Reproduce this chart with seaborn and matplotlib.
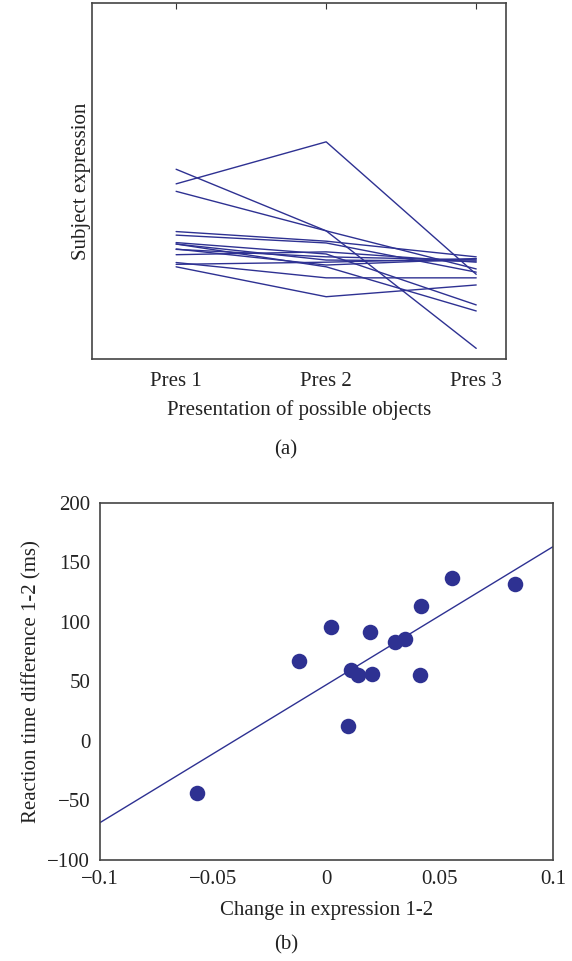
import numpy as np
import pandas as pd
import matplotlib
matplotlib.use("Agg")
import matplotlib.pyplot as plt
import seaborn as sns

# (a) subject expression at each presentation (arbitrary units, axis fraction)
pres_labels = ["Pres 1", "Pres 2", "Pres 3"]
pres_1 = [0.492, 0.533, 0.471, 0.358, 0.348, 0.327, 0.323, 0.308, 0.293, 0.271, 0.266, 0.259, 0.323, 0.309]
pres_2 = [0.610, 0.360, 0.360, 0.331, 0.326, 0.295, 0.259, 0.287, 0.301, 0.228, 0.272, 0.175, 0.278, 0.264]
pres_3 = [0.238, 0.030, 0.253, 0.287, 0.244, 0.152, 0.135, 0.278, 0.272, 0.228, 0.282, 0.208, 0.275, 0.281]

# (b) change in expression vs reaction time difference
change_12 = [-0.0573, -0.0123, 0.0020, 0.0192, 0.0107, 0.0138, 0.0200,
             0.0095, 0.0304, 0.0348, 0.0415, 0.0411, 0.0554, 0.0831]
rt_diff_12 = [-43.4, 67.2, 95.5, 91.9, 59.7, 55.5, 56.3,
              12.9, 82.9, 85.4, 113.2, 55.5, 136.7, 132.2]
fit_x = [-0.1, 0.1]
fit_y = [-68.6, 163.3]

navy = "#2e3192"

sns.set_style("white")
plt.rcParams['font.family'] = ['Liberation Serif', 'DejaVu Serif']
plt.rcParams['font.size'] = 15

n = len(pres_1)
df_a = pd.DataFrame({
    "subject": np.tile(np.arange(n), 3),
    "pres": np.repeat([0, 1, 2], n),
    "value": pres_1 + pres_2 + pres_3,
})
df_b = pd.DataFrame({"change": change_12, "rt": rt_diff_12})

fig = plt.figure(figsize=(5.72, 9.61), dpi=100)
ax1 = fig.add_axes([0.161, 0.6264, 0.724, 0.3705])
ax2 = fig.add_axes([0.1748, 0.1051, 0.792, 0.3715])

# top panel: one line per subject
sns.lineplot(data=df_a, x="pres", y="value", units="subject", estimator=None,
             color=navy, linewidth=1.0, ax=ax1)
ax1.set_xlim(-0.56, 2.2)
ax1.set_ylim(0, 1)
ax1.set_xticks([0, 1, 2])
ax1.set_xticklabels(pres_labels)
ax1.set_yticks([])
ax1.set_xlabel("Presentation of possible objects", labelpad=7)
ax1.set_ylabel("Subject expression", labelpad=1)
ax1.tick_params(axis="x", direction="in", top=True, length=4, width=0.8, pad=9, colors="#333333")

# bottom panel: scatter + fitted line
sns.lineplot(x=fit_x, y=fit_y, color=navy, linewidth=1.0, ax=ax2)
sns.scatterplot(data=df_b, x="change", y="rt", color=navy, s=125,
                edgecolor=navy, linewidth=0, ax=ax2, zorder=3)
ax2.set_xlim(-0.1, 0.1)
ax2.set_ylim(-100, 200)
ax2.set_xticks([-0.1, -0.05, 0, 0.05, 0.1])
ax2.set_xticklabels(["\u22120.1", "\u22120.05", "0", "0.05", "0.1"])
ax2.set_yticks([-100, -50, 0, 50, 100, 150, 200])
ax2.set_yticklabels(["\u2212100", "\u221250", "0", "50", "100", "150", "200"])
ax2.set_xlabel("Change in expression 1-2", labelpad=9)
ax2.set_ylabel("Reaction time difference 1-2 (ms)", labelpad=4)
ax2.tick_params(direction="in", length=4, width=0.8, pad=7, colors="#333333")

for ax in (ax1, ax2):
    for lbl in ax.get_xticklabels() + ax.get_yticklabels():
        lbl.set_color("#222222")
    ax.xaxis.label.set_color("#222222")
    ax.yaxis.label.set_color("#222222")
    for sp in ax.spines.values():
        sp.set_visible(True)
        sp.set_color("#444444")
        sp.set_linewidth(1.2)

fig.text(0.5, 1 - 450 / 961, "(a)", ha="center", va="center", color="#222222")
fig.text(0.5, 1 - 945 / 961, "(b)", ha="center", va="center", color="#222222")

fig.savefig("out.png", dpi=100)
